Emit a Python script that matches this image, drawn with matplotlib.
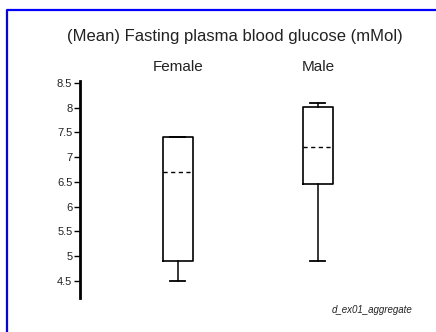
import matplotlib
matplotlib.use("Agg")
import matplotlib.pyplot as plt
from matplotlib.lines import Line2D

plt.rcParams['font.family'] = ['Liberation Sans', 'DejaVu Sans']

groups = ["Female", "Male"]
whis_lo = [4.5, 4.9]
q1 = [4.9, 6.45]
q3 = [7.4, 8.02]
whis_hi = [7.4, 8.1]
means = [6.7, 7.2]
yticks = [4.5, 5, 5.5, 6, 6.5, 7, 7.5, 8, 8.5]

fig = plt.figure(figsize=(4.36, 3.32), dpi=100)
ax = fig.add_axes([80 / 436, 0.1015, 340 / 436, 0.656])

stats = []
for i in range(len(groups)):
    stats.append(dict(label=groups[i], whislo=whis_lo[i], q1=q1[i], med=means[i],
                      q3=q3[i], whishi=whis_hi[i], mean=means[i], fliers=[]))

ax.bxp(stats, positions=[0, 1], widths=0.214, showmeans=True, meanline=True,
       boxprops=dict(color='black', linewidth=1.2),
       whiskerprops=dict(color='black', linewidth=1.1),
       capprops=dict(color='black', linewidth=1.3),
       medianprops=dict(visible=False),
       meanprops=dict(color='black', linestyle=(0, (3, 2.5)), linewidth=1.0))

ax.set_xlim(-0.7, 1.73)
ax.set_ylim(4.15, 8.55)
ax.set_yticks(yticks)
ax.set_yticklabels(["4.5", "5", "5.5", "6", "6.5", "7", "7.5", "8", "8.5"])
ax.tick_params(axis='y', length=4, width=1, pad=1.5, labelsize=8, labelcolor='#222222')
ax.set_xticks([])
for s in ['top', 'right', 'bottom']:
    ax.spines[s].set_visible(False)
ax.spines['left'].set_linewidth(2)

for i, g in enumerate(groups):
    ax.text(i, 1.03, g, transform=ax.get_xaxis_transform(), ha='center',
            va='bottom', fontsize=11, color='#222222')

fig.text(235 / 436, 1 - 37 / 332, "(Mean) Fasting plasma blood glucose (mMol)",
         ha='center', va='center', fontsize=12, color='#222222')
fig.text(372 / 436, 1 - 310 / 332, "d_ex01_aggregate", ha='center', va='center',
         fontsize=7, style='italic', color='#222222')

# blue frame
fig.add_artist(Line2D([7 / 436, 7 / 436, 1.0], [0, 1 - 10 / 332, 1 - 10 / 332],
                      transform=fig.transFigure, color='#0000ff', linewidth=1.6))

fig.savefig("out.png", dpi=100)
